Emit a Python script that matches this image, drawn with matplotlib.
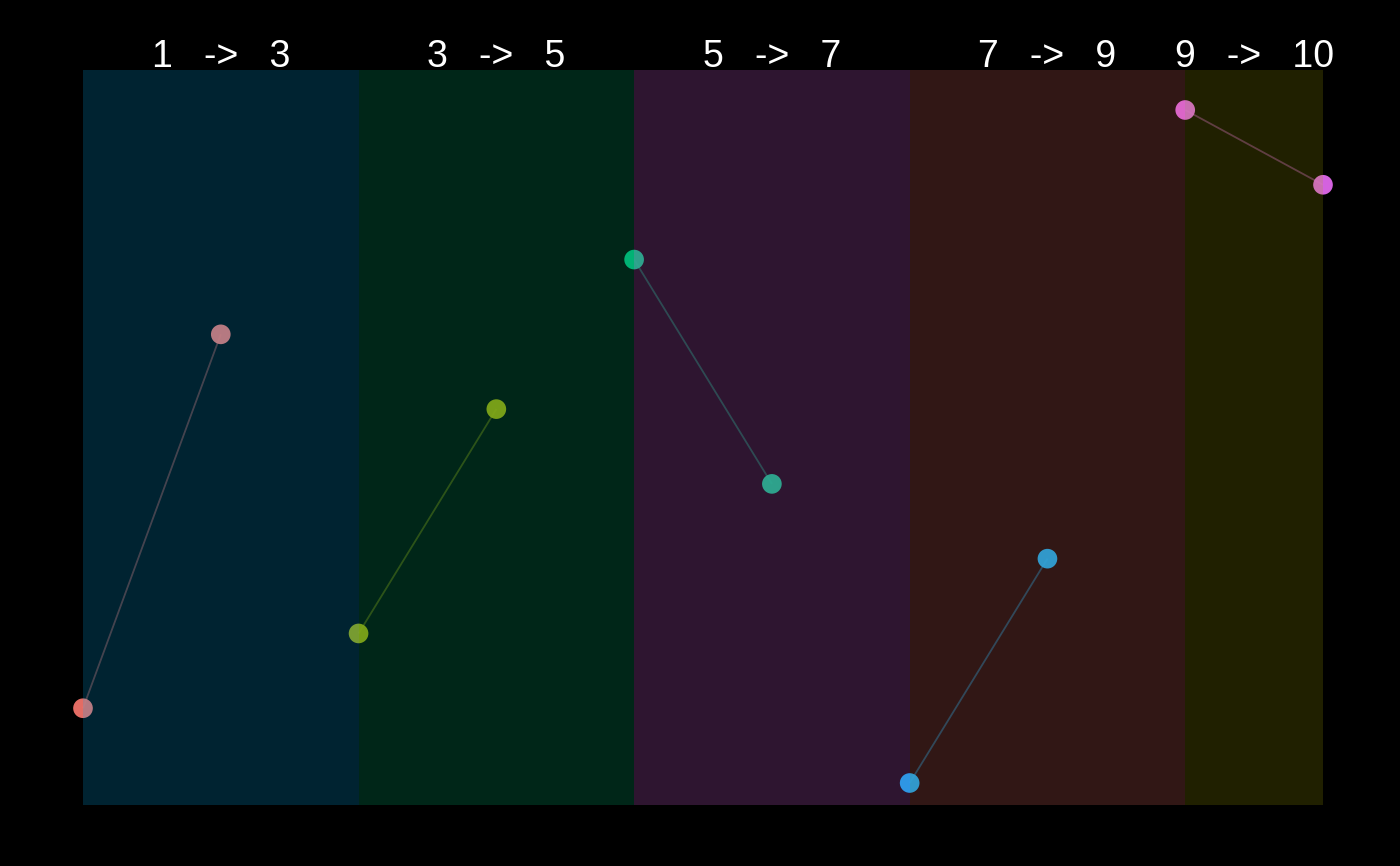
import numpy as np
import matplotlib
matplotlib.use("Agg")
import matplotlib.pyplot as plt
from matplotlib.patches import Rectangle

# point data: x position and rank on y, grouped in pairs
x_vals = [1, 2, 3, 4, 5, 6, 7, 8, 9, 10]
y_vals = [2, 7, 3, 6, 8, 5, 1, 4, 10, 9]
pair_colors = ["#F8766D", "#A3A500", "#00BF7D", "#00B0F6", "#E76BF3"]

# segments shown as shaded bands with a label on top
band_starts = [1, 3, 5, 7, 9]
band_ends = [3, 5, 7, 9, 10]
band_colors = ["#00B0F6", "#00BF7D", "#E76BF3", "#F8766D", "#A3A500"]
band_labels = [f"{a}   ->   {b}" for a, b in zip(band_starts, band_ends)]

plt.rcParams['font.family'] = ['Liberation Sans', 'DejaVu Sans']

fig = plt.figure(figsize=(14, 8.66), dpi=100, facecolor="black")
ax = fig.add_axes([0, 0, 1, 1])
ax.set_facecolor("black")
ax.set_axis_off()

# pixel-matched limits
ax.set_xlim(1 - 83 / 137.78, 10 + 77 / 137.78)
ax.set_ylim(1 - 83 / 74.78, 10 + 110 / 74.78)

x = np.array(x_vals)
y = np.array(y_vals)

# 1. lines and points for each pair
for i, col in enumerate(pair_colors):
    xs = x[2 * i:2 * i + 2]
    ys = y[2 * i:2 * i + 2]
    ax.plot(xs, ys, color=col, alpha=0.35, lw=1.3, zorder=1, solid_capstyle="butt")
    ax.scatter(xs, ys, s=200, color=col, alpha=0.92, edgecolor="none", zorder=2)

# 2. translucent bands drawn on top
y_lo = y.min() - 0.3
y_hi = y.max() + 0.535
for x0, x1, col, lab in zip(band_starts, band_ends, band_colors, band_labels):
    ax.add_patch(Rectangle((x0, y_lo), x1 - x0, y_hi - y_lo, facecolor=col,
                           edgecolor="none", alpha=0.2, zorder=3))
    ax.text((x0 + x1) / 2, y_hi + 0.04, lab, color="white", fontsize=27,
            ha="center", va="baseline", zorder=4)

fig.savefig("out.png", dpi=100, facecolor="black")
